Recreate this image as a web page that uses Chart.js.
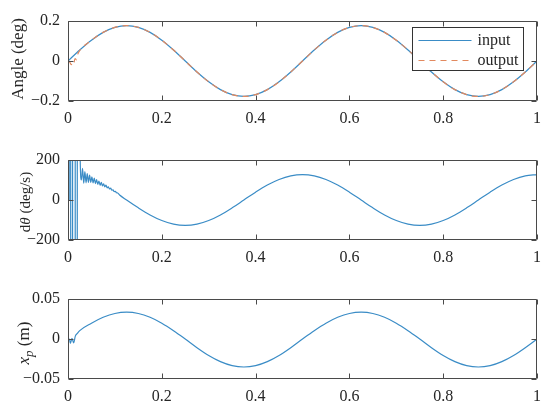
<!DOCTYPE html>
<html>
<head>
<meta charset="utf-8">
<script src="https://cdn.jsdelivr.net/npm/chart.js@4.4.1/dist/chart.umd.min.js"></script>
<style>
  html, body { margin: 0; padding: 0; background: #ffffff; }
  #wrap { position: relative; width: 550px; height: 412px; overflow: hidden; }
  canvas { position: absolute; left: 0; }
</style>
</head>
<body>
<div id="wrap">
  <canvas id="c1" width="550" height="139" style="top:0px"></canvas>
  <canvas id="c2" width="550" height="139" style="top:139px"></canvas>
  <canvas id="c3" width="550" height="134" style="top:278px"></canvas>
</div>
<script>
// ---------------- data ----------------
const xTicks = [0, 0.2, 0.4, 0.6, 0.8, 1];

// common time grid (s)
const t = [0, 0.025, 0.05, 0.075, 0.1, 0.125, 0.15, 0.175, 0.2, 0.225, 0.25,
           0.275, 0.3, 0.325, 0.35, 0.375, 0.4, 0.425, 0.45, 0.475, 0.5,
           0.525, 0.55, 0.575, 0.6, 0.625, 0.65, 0.675, 0.7, 0.725, 0.75,
           0.775, 0.8, 0.825, 0.85, 0.875, 0.9, 0.925, 0.95, 0.975, 1];

// Angle input (deg)
const angleInput = [0, 0.055, 0.104, 0.143, 0.168, 0.177, 0.168, 0.143, 0.104, 0.055, 0,
                    -0.055, -0.104, -0.143, -0.168, -0.177, -0.168, -0.143, -0.104, -0.055, 0,
                    0.055, 0.104, 0.143, 0.168, 0.177, 0.168, 0.143, 0.104, 0.055, 0,
                    -0.055, -0.104, -0.143, -0.168, -0.177, -0.168, -0.143, -0.104, -0.055, 0];

// Angle output: start-up transient, then follows the input
const tOutStart = [0, 0.003, 0.007, 0.010, 0.012, 0.015, 0.018, 0.021];
const angleOutStart = [0, -0.003, -0.018, -0.008, -0.015, 0.012, 0.006, 0.035];
const angleOutput = [0.052, 0.104, 0.143, 0.168, 0.177, 0.168, 0.143, 0.104, 0.055, 0,
                     -0.055, -0.104, -0.143, -0.168, -0.177, -0.168, -0.143, -0.104, -0.055, 0,
                     0.055, 0.104, 0.143, 0.168, 0.177, 0.168, 0.143, 0.104, 0.055, 0,
                     -0.055, -0.104, -0.143, -0.168, -0.177, -0.168, -0.143, -0.104, -0.055, 0];

// d theta (deg/s): saturated start, decaying ripple, then smooth
const tRateStart = [0, 0.0025, 0.003, 0.0055, 0.006, 0.0095, 0.010, 0.0152, 0.0156, 0.0196,
                    0.020, 0.0255, 0.026, 0.0285, 0.031, 0.0335, 0.036, 0.0385, 0.041, 0.0435,
                    0.046, 0.0485, 0.051, 0.0535, 0.056, 0.0585, 0.061, 0.0635, 0.066, 0.0685,
                    0.071, 0.0735, 0.076, 0.0785, 0.081, 0.0835, 0.086, 0.0885, 0.091, 0.0935,
                    0.096, 0.0985, 0.101, 0.1035, 0.106, 0.11];
const rateStart = [0, 0, 3000, 3000, -3000, -3000, 3000, 3000, -3000, -3000,
                   3000, 3000, 205, 100, 158, 84, 142, 86, 132, 88,
                   124, 88, 116, 86, 109, 82, 102, 78, 95, 74,
                   88, 70, 81, 66, 74, 61, 66, 55, 59, 49,
                   51, 42, 43, 36, 35, 25];
const rate = [0, -39.2, -74.7, -102.7, -120.8, -127, -120.8, -102.7, -74.7, -39.2,
              0, 39.2, 74.7, 102.7, 120.8, 127, 120.8, 102.7, 74.7, 39.2,
              0, -39.2, -74.7, -102.7, -120.8, -127, -120.8, -102.7, -74.7, -39.2,
              0, 39.2, 74.7, 102.7, 120.8, 127];   // t = 0.125 ... 1

// x_p (m)
const tXpStart = [0, 0.003, 0.005, 0.0085, 0.012, 0.0156, 0.02];
const xpStart = [0, 0, -0.0055, 0.0007, -0.0048, 0.0036, 0.007];
const xp = [0.0105, 0.0197, 0.0271, 0.0319, 0.0335, 0.0319, 0.0271, 0.0197, 0.0104, 0,
            -0.0108, -0.0206, -0.0283, -0.0333, -0.035, -0.0333, -0.0283, -0.0206, -0.0108, 0,
            0.0104, 0.0197, 0.0271, 0.0319, 0.0335, 0.0319, 0.0271, 0.0197, 0.0104, 0,
            -0.0108, -0.0206, -0.0283, -0.0333, -0.035, -0.0333, -0.0283, -0.0206, -0.0108, 0]; // t = 0.025 ... 1

// ---------------- build point tables ----------------
const pts = (xs, ys) => xs.map((x, i) => ({ x: x, y: ys[i] }));
const inPts = pts(t, angleInput);
const outPts = pts(tOutStart.concat(t.slice(1)), angleOutStart.concat(angleOutput));
const ratePts = pts(tRateStart.concat(t.slice(5)), rateStart.concat(rate));
const xpPts = pts(tXpStart.concat(t.slice(1)), xpStart.concat(xp));

// ---------------- styling ----------------
const BLUE = '#3a8cc6';
const ORANGE = '#e2895f';
const AXIS = '#4a4a4a';
const TEXT = '#262626';
const FONT = "'Liberation Serif', 'Times New Roman', serif";

Chart.defaults.font.family = FONT;
Chart.defaults.font.size = 16;
Chart.defaults.color = TEXT;

const fmt = v => String(v).replace('-', '\u2212');

const matlabAxes = {
  id: 'matlabAxes',
  afterDraw(chart, args, opts) {
    const { ctx, chartArea: a, scales } = chart;
    ctx.save();
    ctx.setLineDash([]);
    ctx.strokeStyle = AXIS;
    ctx.lineWidth = 1;
    const L0 = Math.round(a.left) + 0.5, R0 = Math.round(a.right) - 0.5;
    const T0 = Math.round(a.top) + 0.5, B0 = Math.round(a.bottom) - 0.5;
    ctx.beginPath();
    // box
    ctx.moveTo(L0, T0); ctx.lineTo(R0, T0); ctx.lineTo(R0, B0); ctx.lineTo(L0, B0); ctx.closePath();
    // inward ticks on all four sides
    const L = 5;
    scales.x.ticks.forEach(tk => {
      const px = Math.round(scales.x.getPixelForValue(tk.value)) + 0.5;
      ctx.moveTo(px, B0); ctx.lineTo(px, B0 - L);
      ctx.moveTo(px, T0); ctx.lineTo(px, T0 + L);
    });
    scales.y.ticks.forEach(tk => {
      const py = Math.round(scales.y.getPixelForValue(tk.value)) + 0.5;
      ctx.moveTo(L0, py); ctx.lineTo(L0 + L, py);
      ctx.moveTo(R0, py); ctx.lineTo(R0 - L, py);
    });
    ctx.stroke();

    // y-axis title (rich text, rotated)
    if (opts.title) {
      const segs = opts.title;
      const fs = opts.fontSize || 17;
      const fontFor = s => (s.italic ? 'italic ' : '') + (s.sub ? 13 : fs) + 'px ' + FONT;
      let total = 0;
      segs.forEach(s => { ctx.font = fontFor(s); s.w = ctx.measureText(s.text).width; total += s.w; });
      ctx.translate(opts.titleX, (a.top + a.bottom) / 2 + (opts.titleDY || 0));
      ctx.rotate(-Math.PI / 2);
      ctx.fillStyle = TEXT;
      ctx.textBaseline = 'middle';
      ctx.textAlign = 'left';
      let x = -total / 2;
      segs.forEach(s => {
        ctx.font = fontFor(s);
        ctx.fillText(s.text, x, s.sub ? 5 : 0);
        x += s.w;
      });
      ctx.setTransform(1, 0, 0, 1, 0, 0);
    }

    // legend box inside axes (north-east)
    if (opts.legend) {
      const w = 111, h = 43;
      const left = Math.round(a.right) - 125 + 0.5, top = Math.round(a.top) + 6 + 0.5;
      ctx.fillStyle = '#ffffff';
      ctx.fillRect(left, top, w, h);
      ctx.strokeStyle = '#333333';
      ctx.lineWidth = 1;
      ctx.strokeRect(left, top, w, h);
      ctx.font = '16px ' + FONT;
      ctx.textBaseline = 'middle';
      ctx.textAlign = 'left';
      chart.data.datasets.forEach((ds, i) => {
        const cy = top + 13 + i * 20;
        ctx.strokeStyle = ds.borderColor;
        ctx.lineWidth = ds.borderWidth;
        ctx.setLineDash(ds.borderDash || []);
        ctx.beginPath();
        ctx.moveTo(left + 6, cy);
        ctx.lineTo(left + 59, cy);
        ctx.stroke();
        ctx.setLineDash([]);
        ctx.fillStyle = TEXT;
        ctx.fillText(ds.label, left + 65, cy);
      });
    }
    ctx.restore();
  }
};

function makeChart(id, datasets, yMin, yMax, yStep, xHeight, axOpts) {
  return new Chart(document.getElementById(id), {
    type: 'line',
    data: { datasets: datasets },
    options: {
      responsive: false,
      animation: false,
      events: [],
      layout: { padding: { top: 21, right: 13, left: 0, bottom: 0 } },
      elements: { point: { radius: 0 }, line: { cubicInterpolationMode: 'monotone' } },
      plugins: { legend: { display: false }, tooltip: { enabled: false }, matlabAxes: axOpts },
      scales: {
        x: {
          type: 'linear', min: 0, max: 1,
          grid: { display: false, drawTicks: false }, border: { display: false },
          afterFit: s => { s.height = xHeight; },
          afterBuildTicks: s => { s.ticks = xTicks.map(v => ({ value: v })); },
          ticks: { padding: 8, maxRotation: 0, autoSkip: false, callback: v => fmt(v) }
        },
        y: {
          type: 'linear', min: yMin, max: yMax,
          grid: { display: false, drawTicks: false }, border: { display: false },
          afterFit: s => { s.width = 68; },
          ticks: { stepSize: yStep, padding: 8, autoSkip: false, callback: v => fmt(v) }
        }
      }
    },
    plugins: [matlabAxes]
  });
}

makeChart('c1', [
  { label: 'input', data: inPts, borderColor: BLUE, borderWidth: 1.2, fill: false, order: 1 },
  { label: 'output', data: outPts, borderColor: ORANGE, borderWidth: 1.2, borderDash: [6, 5], fill: false, order: 0 }
], -0.2, 0.2, 0.2, 38, {
  title: [{ text: 'Angle (deg)' }], titleX: 19, titleDY: -2, legend: true
});

makeChart('c2', [
  { label: 'dtheta', data: ratePts, borderColor: BLUE, borderWidth: 1.2, fill: false }
], -200, 200, 200, 38, {
  title: [{ text: 'd' }, { text: 'θ', italic: true }, { text: ' (deg/s)' }], titleX: 26, titleDY: 2, fontSize: 15
});

makeChart('c3', [
  { label: 'xp', data: xpPts, borderColor: BLUE, borderWidth: 1.2, fill: false }
], -0.05, 0.05, 0.05, 33, {
  title: [{ text: 'x', italic: true }, { text: 'p', italic: true, sub: true }, { text: ' (m)' }], titleX: 25, titleDY: 4
});
</script>
</body>
</html>
